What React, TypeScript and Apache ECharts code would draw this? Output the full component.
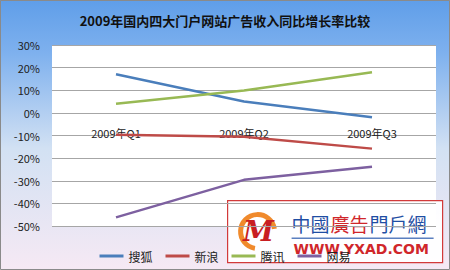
import React, { useEffect, useRef } from "react";
import * as echarts from "echarts";

const categories = ["2009年Q1", "2009年Q2", "2009年Q3"];
const sohu = [17.1, 5.0, -1.9];
const sina = [-9.7, -10.5, -15.8];
const tencent = [4.0, 9.9, 18.0];
const netease = [-46.2, -29.6, -23.8];
const seriesNames = ["搜狐", "新浪", "腾讯", "网易"];
const colors = ["#4a7ebb", "#be4b48", "#98b954", "#7d60a0"];

export default function App() {
  const ref = useRef<HTMLDivElement>(null);
  useEffect(() => {
    document.body.style.margin = "0";
    const chart = echarts.init(ref.current!, undefined, { renderer: "svg" });
    const font = "'Noto Sans CJK SC', 'Noto Sans', sans-serif";
    const data = [sohu, sina, tencent, netease];
    chart.setOption({
      animation: false,
      backgroundColor: {
        type: "linear",
        x: 0, y: 0, x2: 0, y2: 1,
        colorStops: [
          { offset: 0, color: "#5f9ee9" },
          { offset: 0.2, color: "#7fb1ee" },
          { offset: 0.55, color: "#d2e1f3" },
          { offset: 1, color: "#f6e9f4" },
        ],
      },
      title: {
        text: "2009年国内四大门户网站广告收入同比增长率比较",
        left: "center",
        top: 9,
        textStyle: { fontFamily: font, fontSize: 13, fontWeight: "bold", color: "#111" },
      },
      grid: {
        left: 52, right: 14, top: 45, bottom: 44,
        show: true, backgroundColor: "#ffffff", borderWidth: 0,
      },
      legend: {
        left: "center",
        top: 245,
        itemWidth: 24,
        itemHeight: 3,
        itemGap: 13,
        icon: "rect",
        data: seriesNames,
        textStyle: { fontFamily: font, fontSize: 12, color: "#222" },
      },
      xAxis: {
        type: "category",
        data: categories,
        boundaryGap: true,
        axisLine: { show: false },
        axisTick: { show: false },
        splitLine: { show: false },
        axisLabel: { margin: -99, fontFamily: font, fontSize: 11, color: "#222" },
      },
      yAxis: {
        type: "value",
        min: -50,
        max: 30,
        interval: 10,
        axisLine: { show: false },
        axisTick: { show: false },
        axisLabel: { formatter: "{value}%", margin: 12, fontFamily: font, fontSize: 11, color: "#222" },
        splitLine: { lineStyle: { color: "#a6a6a6", width: 1 } },
      },
      series: seriesNames.map((name, i) => ({
        name,
        type: "line",
        data: data[i],
        symbol: "none",
        z: 1,
        lineStyle: { color: colors[i], width: 2.5 },
        itemStyle: { color: colors[i] },
      })),
      graphic: [
        {
          type: "rect",
          shape: { x: 0.5, y: 0.5, width: 449, height: 269 },
          style: { fill: "none", stroke: "#8a8a8a", lineWidth: 1 },
          z: 100,
        },
        {
          type: "group",
          left: 227,
          top: 200,
          z: 110,
          children: [
            {
              type: "rect",
              shape: { x: 0, y: 0, width: 215, height: 62 },
              style: { fill: "rgba(255,255,255,0.93)", stroke: "#d23a3a", lineWidth: 1.2 },
            },
            {
              type: "arc",
              shape: { cx: 30, cy: 31, r: 17, startAngle: Math.PI * 0.55, endAngle: Math.PI * 1.95 },
              style: { stroke: "#f08a2c", lineWidth: 5, fill: "none" },
            },
            {
              type: "text",
              style: { x: 31, y: 31, text: "M", fill: "#c81e22", font: "italic bold 28px 'DejaVu Serif', serif", align: "center", verticalAlign: "middle" },
            },
            {
              type: "text",
              style: { x: 64, y: 13, text: "中國", fill: "#1f4ea3", font: "19px 'Noto Sans CJK TC', sans-serif" },
            },
            {
              type: "text",
              style: { x: 103, y: 13, text: "廣告", fill: "#d0262a", font: "19px 'Noto Sans CJK TC', sans-serif" },
            },
            {
              type: "text",
              style: { x: 142, y: 13, text: "門戶網", fill: "#1f4ea3", font: "19px 'Noto Sans CJK TC', sans-serif" },
            },
            {
              type: "rect",
              shape: { x: 64, y: 37, width: 142, height: 1.5 },
              style: { fill: "#5a7fc0" },
            },
            {
              type: "text",
              style: { x: 66, y: 41, text: "WWW.YXAD.COM", fill: "#d0262a", font: "bold 14px 'DejaVu Sans', sans-serif" },
            },
          ],
        },
      ],
    });
    return () => chart.dispose();
  }, []);
  return <div ref={ref} style={{ width: 450, height: 270 }} />;
}
